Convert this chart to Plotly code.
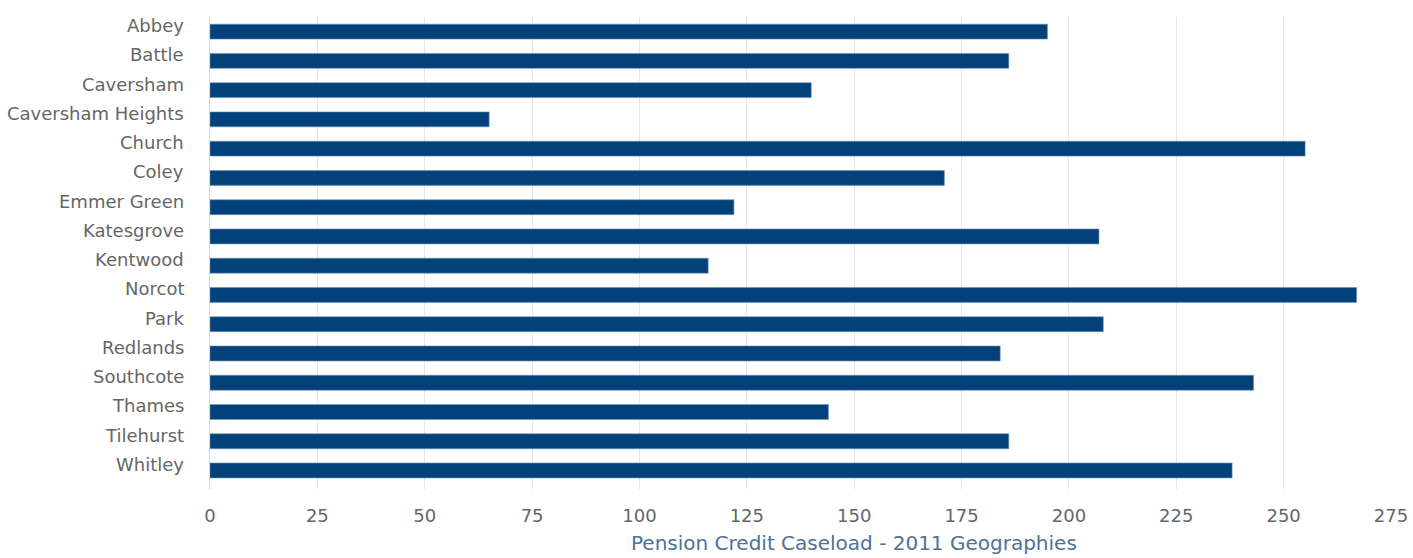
import plotly.graph_objects as go

# Pension Credit caseload by ward (2011 geographies)
wards = [
    "Abbey", "Battle", "Caversham", "Caversham Heights", "Church", "Coley",
    "Emmer Green", "Katesgrove", "Kentwood", "Norcot", "Park", "Redlands",
    "Southcote", "Thames", "Tilehurst", "Whitley",
]
caseload = [195, 186, 140, 65, 255, 171, 122, 207, 116, 267, 208, 184, 243, 144, 186, 238]
x_ticks = [0, 25, 50, 75, 100, 125, 150, 175, 200, 225, 250, 275]

FONT = "DejaVu Sans"
BAR = "#02417a"

fig = go.Figure(
    go.Bar(
        x=caseload,
        y=wards,
        orientation="h",
        marker=dict(color=BAR, line=dict(color="#6f93b8", width=0.6)),
        hoverinfo="x+y",
    )
)

# Ward names drawn as annotations so they can sit slightly above bar centres
for w in wards:
    fig.add_annotation(
        x=0, xref="paper", y=w, yref="y",
        text=w, showarrow=False,
        xanchor="right", yanchor="middle",
        xshift=-24, yshift=6,
        font=dict(family=FONT, size=18, color="#666666"),
    )

fig.add_annotation(
    x=0.5455, xref="paper", y=-0.114, yref="paper",
    text="Pension Credit Caseload - 2011 Geographies",
    showarrow=False, xanchor="center", yanchor="middle",
    font=dict(family=FONT, size=20, color="#4d7198"),
)

fig.update_layout(
    width=1413, height=558,
    margin=dict(l=210, r=22, t=17, b=69, autoexpand=False),
    paper_bgcolor="white", plot_bgcolor="white",
    bargap=0.49,
    showlegend=False,
    font=dict(family=FONT, size=18, color="#666666"),
)
fig.update_xaxes(
    range=[0, 275],
    tickvals=x_ticks,
    ticktext=[str(v) for v in x_ticks],
    showgrid=True, gridcolor="#e6e6e6", gridwidth=1,
    zeroline=False, showline=False,
    ticks="", ticklabelstandoff=14,
    automargin=False,
    tickfont=dict(family=FONT, size=18, color="#666666"),
)
fig.update_yaxes(
    autorange="reversed",
    showticklabels=False,
    showgrid=False, zeroline=False,
    showline=True, linecolor="#ccd6eb", linewidth=1,
    ticks="", automargin=False,
)

fig.write_html("out.html")
